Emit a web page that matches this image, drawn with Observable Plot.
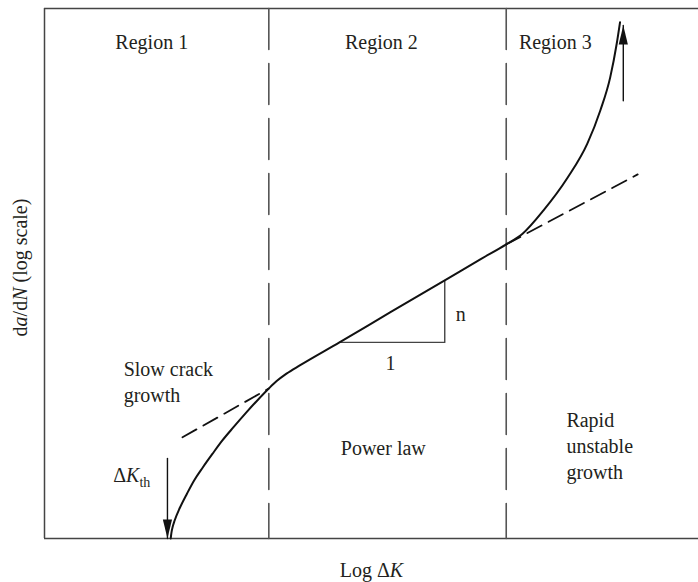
<!DOCTYPE html>
<html><head><meta charset="utf-8">
<script src="https://cdn.jsdelivr.net/npm/d3@7"></script>
<script src="https://cdn.jsdelivr.net/npm/@observablehq/plot@0.6"></script>
<style>body{margin:0;background:#fff} svg{display:block}</style>
</head><body><div id="chart"></div>
<script>
// Schematic fatigue-crack-growth curve (abstract log units)
const curveLogK    = [1.93, 1.94, 1.96, 1.99, 2.07, 2.18, 2.29, 2.42, 2.57, 2.72, 2.89, 3.08, 3.25, 3.43,
                      3.55, 3.70, 3.91, 4.51, 5.29, 6.12, 6.67, 7.06, 7.31,
                      7.63, 8.00, 8.30, 8.50, 8.65, 8.75, 8.80];
const curveLogRate = [0.00, 0.10, 0.22, 0.34, 0.58, 0.85, 1.10, 1.34, 1.60, 1.85, 2.10, 2.37, 2.60, 2.83,
                      2.97, 3.11, 3.27, 3.70, 4.27, 4.87, 5.27, 5.55, 5.75,
                      6.19, 6.81, 7.45, 8.08, 8.70, 9.34, 9.74];
const regionBounds = [3.43, 7.06];
const tangentLogK    = [[2.11, 3.43], [7.06, 9.07]];
const tangentLogRate = [[1.91, 2.83], [5.55, 6.87]];
const slopeTriK    = [4.51, 6.12, 6.12];
const slopeTriRate = [3.70, 3.70, 4.87];
const arrowLogK  = [8.85, 1.88];
const arrowFrom  = [8.26, 1.51];
const arrowTo    = [9.68, 0.00];
const regionLabels = ["Region 1", "Region 2", "Region 3"];
const regionLabelK = [1.64, 5.15, 7.81];
const regionLabelRate = 9.23;
const leftNotes   = ["Slow crack\ngrowth", "Rapid\nunstable\ngrowth"];
const leftNotesK  = [1.21, 7.98];
const leftNotesRate = [2.57, 1.13];
const midNote = "Power law";
const midNoteK = 5.18, midNoteRate = 1.57;
const xTitle = "Log ΔK";
const yTitle = "da/dN (log scale)";

const curve = curveLogK.map((k, i) => ({k, r: curveLogRate[i]}));
const bounds = regionBounds.flatMap((b, i) => [{k: b, r: 10, id: i}, {k: b, r: 0, id: i}]);
const tangents = tangentLogK.flatMap((ks, i) => ks.map((k, j) => ({k, r: tangentLogRate[i][j], id: i})));
const tri = slopeTriK.map((k, i) => ({k, r: slopeTriRate[i]}));
const shafts = arrowLogK.flatMap((k, i) => [{k, r: arrowFrom[i], id: i}, {k, r: arrowTo[i], id: i}]);
const heads = arrowLogK.map((k, i) => ({k, r: arrowTo[i], rot: arrowTo[i] > arrowFrom[i] ? 0 : 180}));
const leftNoteRows = leftNotes.map((t, i) => ({t, k: leftNotesK[i], r: leftNotesRate[i]}));

const headSymbol = {draw(ctx) { ctx.moveTo(0, 0); ctx.lineTo(-4.6, 19); ctx.lineTo(4.6, 19); ctx.closePath(); }};
const font = "Liberation Serif, Times New Roman, serif";
const ink = "#231f20";

const chart = Plot.plot({
  width: 698, height: 582,
  marginLeft: 44, marginRight: 0, marginTop: 8, marginBottom: 44,
  x: {domain: [0, 10], axis: null},
  y: {domain: [0, 10], axis: null},
  style: {fontFamily: font, fontSize: "20px", color: ink, background: "#fff"},
  marks: [
    Plot.ruleY([0, 10], {stroke: "#444", strokeWidth: 1.5}),
    Plot.ruleX([0], {stroke: "#444", strokeWidth: 1.5}),
    Plot.line(bounds, {x: "k", y: "r", z: "id", stroke: "#555", strokeWidth: 1.6, strokeDasharray: "41,14"}),
    Plot.line(tangents, {x: "k", y: "r", z: "id", stroke: "#111", strokeWidth: 1.8, strokeDasharray: "16,8"}),
    Plot.line(tri, {x: "k", y: "r", stroke: "#444", strokeWidth: 1.4}),
    Plot.line(curve, {x: "k", y: "r", curve: "monotone-x", stroke: "#111", strokeWidth: 2}),
    Plot.line(shafts, {x: "k", y: "r", z: "id", stroke: "#111", strokeWidth: 1.4}),
    Plot.dot(heads, {x: "k", y: "r", rotate: "rot", symbol: headSymbol, fill: "#111", stroke: "none"}),
    Plot.text(regionLabels, {x: (d, i) => regionLabelK[i], y: regionLabelRate, text: d => d, lineAnchor: "bottom", fill: ink}),
    Plot.text(leftNoteRows, {x: "k", y: "r", text: "t", textAnchor: "start", lineAnchor: "bottom", lineHeight: 1.3, fill: ink}),
    Plot.text([midNote], {x: midNoteK, y: midNoteRate, lineAnchor: "bottom", fill: ink}),
    Plot.text(["1"], {x: 5.29, y: 3.17, lineAnchor: "bottom", fill: ink}),
    Plot.text(["n"], {x: 6.12, y: 4.11, dx: 11, textAnchor: "start", lineAnchor: "bottom", fill: ink}),
    Plot.text(["ΔKth"], {x: 1.05, y: 1.06, textAnchor: "start", lineAnchor: "bottom", fill: ink}),
    Plot.text([xTitle], {frameAnchor: "bottom", dy: 38, textAnchor: "middle", lineAnchor: "bottom", fill: ink}),
    Plot.text([yTitle], {frameAnchor: "left", dx: -24, dy: -6, rotate: -90, textAnchor: "middle", fill: ink})
  ]
});
document.getElementById("chart").append(chart);

// rich text: italics and subscript
const svg = d3.select(chart);
svg.selectAll("text").each(function() {
  const t = this.textContent;
  const el = d3.select(this);
  if (t === "ΔKth") {
    el.text("");
    el.append("tspan").text("Δ");
    el.append("tspan").attr("font-style", "italic").text("K");
    el.append("tspan").attr("font-size", "14px").attr("dy", "5").text("th");
  } else if (t === xTitle) {
    el.text("");
    el.append("tspan").text("Log Δ");
    el.append("tspan").attr("font-style", "italic").text("K");
  } else if (t === yTitle) {
    el.text("");
    el.append("tspan").text("d");
    el.append("tspan").attr("font-style", "italic").text("a");
    el.append("tspan").text("/d");
    el.append("tspan").attr("font-style", "italic").text("N");
    el.append("tspan").text(" (log scale)");
  }
});
</script>
</body></html>
